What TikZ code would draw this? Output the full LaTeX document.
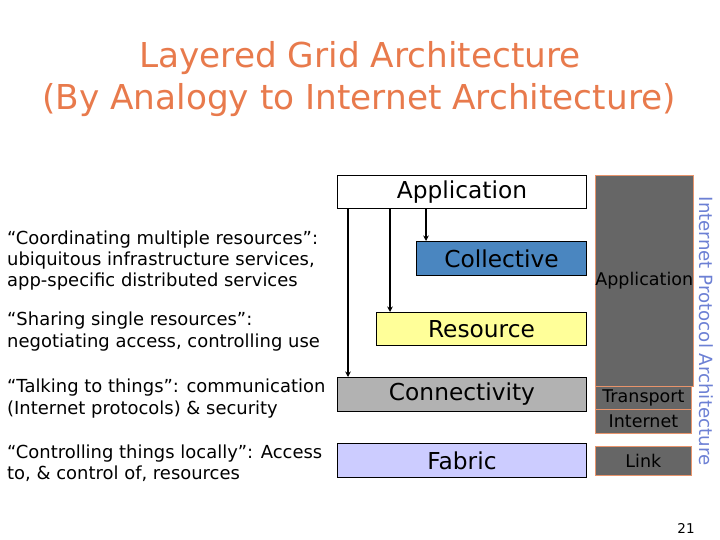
\documentclass[tikz,border=0pt]{standalone}
\usepackage{fontspec}
\setmainfont{DejaVu Sans}
\usetikzlibrary{arrows.meta}
\definecolor{titleorange}{HTML}{E87A4C}
\definecolor{collblue}{HTML}{4A86C0}
\definecolor{resyellow}{HTML}{FFFF99}
\definecolor{conngray}{HTML}{B2B2B2}
\definecolor{fabblue}{HTML}{CCCCFF}
\definecolor{ipgray}{HTML}{666666}
\definecolor{ipborder}{HTML}{E8946C}
\definecolor{iplabel}{HTML}{6C80D4}
\tikzset{
  layer/.style={draw=black, line width=0.9pt, anchor=north west, inner sep=0pt,
    minimum width=249pt, font=\fontsize{23.3}{26}\selectfont},
  ipbox/.style={draw=ipborder, fill=ipgray, line width=0.8pt, anchor=north west,
    inner sep=0pt, minimum width=96pt, font=\fontsize{17.5}{20}\selectfont},
  desc/.style={anchor=base west, align=left, inner sep=0pt,
    font=\fontsize{17.95}{21.4}\selectfont},
  arr/.style={line width=1.4pt, -{Stealth[length=5.5pt,width=5.5pt]}},
  titletext/.style={text=titleorange, anchor=base, inner sep=0pt,
    font=\fontsize{34.3}{40}\selectfont}
}
\begin{document}
\begin{tikzpicture}[x=1pt,y=-1pt]
\useasboundingbox (0,0) rectangle (720,540);
% title
\node[titletext] (t1) at (360,68) {Layered Grid Architecture};
\node[titletext] (t2) at (359,110) {(By Analogy to Internet Architecture)};
% grid layers
\node[layer, fill=white, minimum height=33pt] (app) at (337,175) {Application};
\node[layer, fill=collblue, minimum width=170pt, minimum height=34pt] (coll) at (416,241) {Collective};
\node[layer, fill=resyellow, minimum width=210pt, minimum height=33pt] (res) at (376,312) {Resource};
\node[layer, fill=conngray, minimum height=34pt] (conn) at (337,377) {Connectivity};
\node[layer, fill=fabblue, minimum height=34pt] (fab) at (337,443) {Fabric};
% arrows
\coordinate (a1) at ([xshift=11pt]app.south west);
\coordinate (a2) at ([xshift=53pt]app.south west);
\coordinate (a3) at ([xshift=89pt]app.south west);
\draw[arr] (a1) -- (a1 |- conn.north);
\draw[arr] (a2) -- (a2 |- res.north);
\draw[arr] (a3) -- (a3 |- coll.north);
% internet protocol stack
\node[ipbox, minimum height=211pt] (ipapp) at (595,175) {Application};
\node[ipbox, minimum height=23pt] (iptr) at (595,386) {Transport};
\node[ipbox, minimum height=24pt] (ipin) at (595,409) {Internet};
\node[ipbox, minimum height=29pt] (iplink) at (595,446) {Link};
\node[rotate=-90, text=iplabel, inner sep=0pt, font=\fontsize{18.2}{20}\selectfont] (iplab) at (706,331) {Internet Protocol Architecture};
% descriptions (base anchor = last line's baseline)
\node[desc] (d1) at (7,286.8) {“Coordinating multiple resources”:\\ubiquitous infrastructure services,\\app-specific distributed services};
\node[desc] (d2) at (7,347) {“Sharing single resources”:\\negotiating access, controlling use};
\node[desc] (d3) at (7,414.2) {“Talking to things”: communication\\(Internet protocols) \& security};
\node[desc] (d4) at (7,479.5) {“Controlling things locally”: Access\\to, \& control of, resources};
% page number
\node[anchor=base, inner sep=0pt, font=\fontsize{13.5}{15}\selectfont] (pg) at (686,533) {21};
\end{tikzpicture}
\end{document}
